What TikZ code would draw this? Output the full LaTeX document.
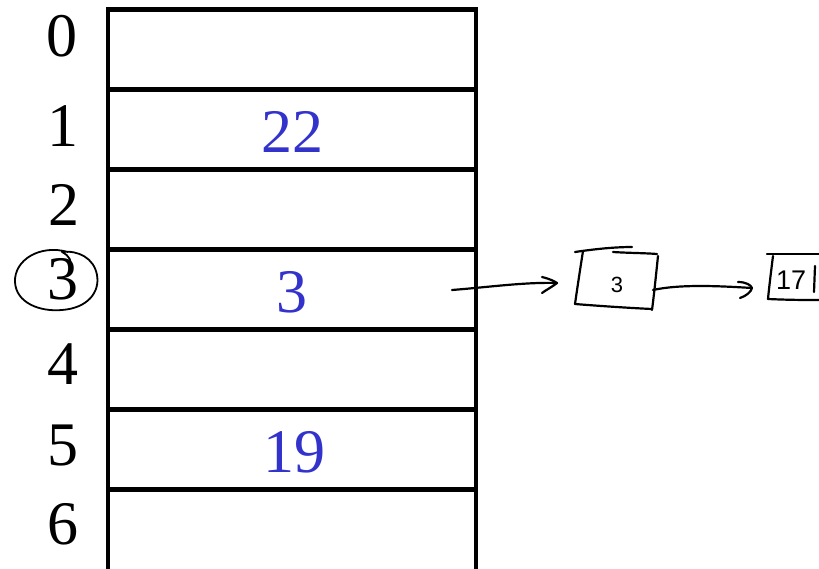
\documentclass[tikz,border=0pt]{standalone}
\usepackage{fontspec}
\setmainfont{Liberation Serif}
\newfontfamily\handfont{Liberation Sans}
\definecolor{cellblue}{RGB}{51,51,204}
\begin{document}
\begin{tikzpicture}[x=1pt,y=-1pt,
  cell/.style={draw=black, line width=4.5pt, minimum width=368pt,
    minimum height=80pt, inner sep=0pt, outer sep=0pt},
  idx/.style={font=\fontsize{62}{62}\selectfont, inner sep=0pt},
  val/.style={font=\fontsize{62}{62}\selectfont, text=cellblue, inner sep=0pt},
  hand/.style={line width=2.2pt, line cap=round, line join=round},
  handtext/.style={font=\handfont\fontsize{22}{22}\selectfont, inner sep=0pt}]
\useasboundingbox (0,0) rectangle (819,568);

% hash table slots
\foreach \i in {0,...,5}
  \node[cell] (row\i) at (292, 49.5+80*\i) {};
\node[cell, minimum height=100pt] (row6) at (292, 539.5) {};

% slot indices
\node[idx] (i0) at (62, 36.5) {0};
\node[idx] (i1) at (63, 126) {1};
\node[idx] (i2) at (64, 205) {2};
\node[idx] (i3) at (63, 279) {3};
\node[idx] (i4) at (63, 364) {4};
\node[idx] (i5) at (63, 445) {5};
\node[idx] (i6) at (63, 524) {6};

% stored keys
\node[val] (v1) at (292, 131.5) {22};
\node[val] (v3) at (292, 292) {3};
\node[val] (v5) at (294, 452) {19};

% circled index
\draw[hand, line width=1.8pt] (68,252) .. controls (40,244) and (14,260) .. (15,282)
  .. controls (16,303) and (40,312) .. (62,310)
  .. controls (88,308) and (100,292) .. (97,275)
  .. controls (94,258) and (78,250) .. (62,252)
  .. controls (70,256) and (72,262) .. (70,266);

% chain: first list element
\node[handtext] (c1) at (617,285) {3};
\draw[hand] (575,252) .. controls (595,249) and (615,247) .. (632,247);
\draw[hand] (613,252) .. controls (628,253) and (645,253) .. (657,254);
\draw[hand] (583,251) .. controls (580,270) and (577,290) .. (575,304);
\draw[hand] (575,304) .. controls (600,306) and (630,308) .. (652,309);
\draw[hand] (658,256) .. controls (656,275) and (654,295) .. (652,310);
\coordinate (c1w) at (557,283);
\coordinate (c1e) at (653,290);

% chain: second list element
\node[handtext, anchor=west, font=\handfont\fontsize{27}{27}\selectfont] (c2) at (776,280) {17};
\draw[hand] (767,254) -- (819,254);
\draw[hand] (773,256) .. controls (771,272) and (769,288) .. (768,299);
\draw[hand] (768,299) .. controls (790,300) and (805,300) .. (819,300);
\draw[hand] (815,266) -- (814,292);
\coordinate (c2w) at (752,288);

% pointers
\coordinate (p3) at (452,290);
\draw[hand] (p3) .. controls (490,287) and (525,282) .. (c1w);
\draw[hand] (542,277) .. controls (550,279) and (554,281) .. (c1w)
  .. controls (552,287) and (546,290) .. (542,293);
\draw[hand] (c1e) .. controls (680,284) and (720,286) .. (c2w);
\draw[hand] (738,282) .. controls (746,282) and (751,285) .. (c2w)
  .. controls (751,292) and (746,296) .. (740,298);
\end{tikzpicture}
\end{document}
